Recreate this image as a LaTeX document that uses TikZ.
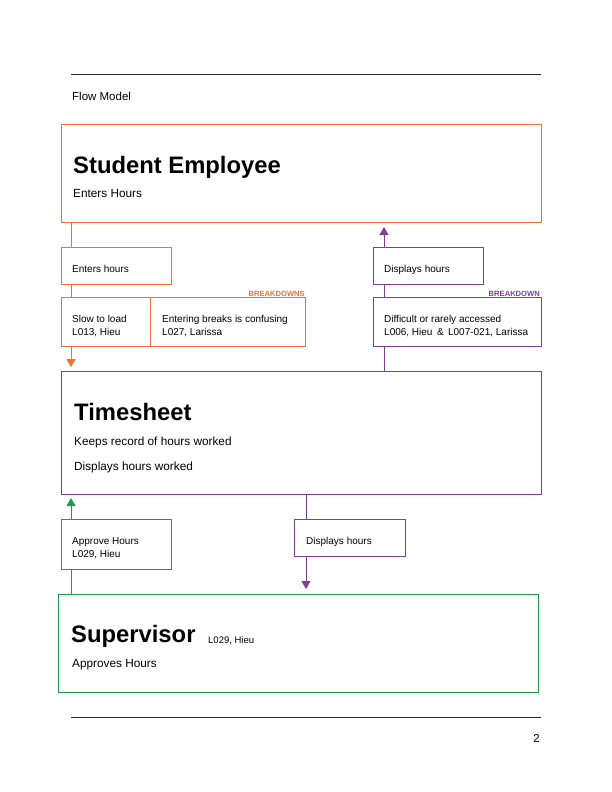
\documentclass[tikz,border=0pt]{standalone}
\usepackage{fontspec}
\setmainfont{Liberation Sans}
\usetikzlibrary{arrows.meta}

\definecolor{fmorange}{HTML}{F2712F}
\definecolor{fmpurple}{HTML}{7E3F98}
\definecolor{fmgreen}{HTML}{1B9B4B}

\tikzset{
  box/.style={draw, line width=0.8pt, inner sep=0pt, outer sep=0pt, anchor=north west},
  txt/.style={inner sep=0pt, anchor=base west, align=left},
  title/.style={txt, font=\fontsize{23.8}{26}\selectfont\bfseries},
  bigbody/.style={txt, font=\fontsize{11.8}{14}\selectfont},
  smallbody/.style={txt, font=\fontsize{10}{13}\selectfont},
  tag/.style={inner sep=0pt, anchor=base east, font=\fontsize{7.6}{9}\selectfont\bfseries},
  link/.style={line width=0.8pt},
  tip/.style={-{Triangle[width=9pt,length=8pt]}},
  rule/.style={line width=0.8pt, black!85}
}

\begin{document}
\begin{tikzpicture}[x=1pt, y=-1pt]
  \useasboundingbox (0,0) rectangle (612,792);

  % page header and footer
  \coordinate (rtl) at (71,74);
  \coordinate (rtr) at (541,74);
  \draw[rule] (rtl) -- (rtr);
  \node[txt, font=\fontsize{11.5}{13}\selectfont] (hdr) at (72,100) {Flow Model};
  \coordinate (rbl) at (71,717);
  \coordinate (rbr) at (541,717);
  \draw[rule] (rbl) -- (rbr);
  \node[inner sep=0pt, anchor=base east, font=\fontsize{11.5}{13}\selectfont] (pg) at (540,742) {2};

  % Student Employee
  \node[box, draw=fmorange, minimum width=480pt, minimum height=98pt] (se) at (61,124) {};
  \node[title] (setitle) at (73,173) {Student Employee};
  \node[bigbody] (sebody) at (73,197) {Enters Hours};

  % Timesheet
  \node[box, draw=fmpurple, minimum width=480pt, minimum height=123pt] (ts) at (61,371) {};
  \node[title] (tstitle) at (74,420) {Timesheet};
  \node[bigbody] (tsb1) at (74,445) {Keeps record of hours worked};
  \node[bigbody] (tsb2) at (74,470) {Displays hours worked};

  % Supervisor
  \node[box, draw=fmgreen, minimum width=480pt, minimum height=98pt] (sup) at (58,594) {};
  \node[title] (suptitle) at (71,642) {Supervisor};
  \node[txt, font=\fontsize{9.5}{11}\selectfont] (supref) at (208,643) {L029, Hieu};
  \node[bigbody] (supbody) at (72,667) {Approves Hours};

  % Student Employee -> Timesheet (two-line texts are placed by their last baseline)
  \node[box, draw=fmorange, minimum width=110pt, minimum height=37pt] (eh) at (61,247) {};
  \node[smallbody] (ehtxt) at (72,272) {Enters hours};
  \node[box, draw=fmorange, minimum width=89pt, minimum height=49pt] (slow) at (61,297) {};
  \node[smallbody] (slowtxt) at (72,335) {Slow to load\\L013, Hieu};
  \node[box, draw=fmorange, minimum width=155pt, minimum height=49pt] (brk) at (150,297) {};
  \node[smallbody] (brktxt) at (162,335) {Entering breaks is confusing\\L027, Larissa};
  \node[tag, text=fmorange] (brklbl) at (305,296.5) {BREAKDOWNS};

  \draw[link, fmorange] ([xshift=10pt]se.south west) -- ([xshift=10pt]eh.north west);
  \draw[link, fmorange] ([xshift=10pt]eh.south west) -- ([xshift=10pt]slow.north west);
  \draw[link, fmorange, tip] ([xshift=10pt]slow.south west) -- ([xshift=10pt, yshift=4pt]ts.north west);

  % Timesheet -> Student Employee
  \node[box, draw=fmpurple, minimum width=110pt, minimum height=37pt] (dh) at (373,247) {};
  \node[smallbody] (dhtxt) at (384,272) {Displays hours};
  \node[box, draw=fmpurple, minimum width=168pt, minimum height=49pt] (diff) at (373,297) {};
  \node[smallbody] (difftxt) at (384,335) {Difficult or rarely accessed\\L006, Hieu \,\&\, L007-021, Larissa};
  \node[tag, text=fmpurple] (difflbl) at (540,296.5) {BREAKDOWN};

  \draw[link, fmpurple] ([xshift=11pt]diff.south west |- ts.north) -- ([xshift=11pt]diff.south west);
  \draw[link, fmpurple] ([xshift=11pt]diff.north west) -- ([xshift=11pt]dh.south west);
  \draw[link, fmpurple, tip] ([xshift=11pt]dh.north west) -- ([xshift=11pt, yshift=-5pt]dh.north west |- se.south);

  % Supervisor -> Timesheet
  \node[box, draw=fmgreen, minimum width=110pt, minimum height=50pt] (ap) at (61,519) {};
  \node[smallbody] (aptxt) at (72,557) {Approve Hours\\L029, Hieu};
  \draw[link, fmgreen] ([xshift=10pt]ap.south west |- sup.north) -- ([xshift=10pt]ap.south west);
  \draw[link, fmgreen, tip] ([xshift=10pt]ap.north west) -- ([xshift=10pt, yshift=-4pt]ap.north west |- ts.south);

  % Timesheet -> Supervisor
  \node[box, draw=fmpurple, minimum width=111pt, minimum height=37pt] (dh2) at (294,519) {};
  \node[smallbody] (dh2txt) at (306,544) {Displays hours};
  \draw[link, fmpurple] ([xshift=12pt]dh2.north west |- ts.south) -- ([xshift=12pt]dh2.north west);
  \draw[link, fmpurple, tip] ([xshift=12pt]dh2.south west) -- ([xshift=12pt, yshift=5pt]dh2.south west |- sup.north);
\end{tikzpicture}
\end{document}
